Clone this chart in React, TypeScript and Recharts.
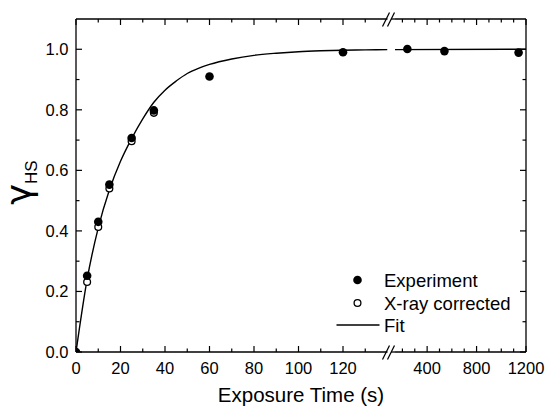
import React from "react"
import { ComposedChart, Line, Scatter, XAxis, YAxis } from "recharts"

// exposure times (s) and gamma_HS values
const expTimes = [0, 5, 10, 15, 25, 35, 60, 120, 240, 540, 1140]
const expValues = [0, 0.252, 0.43, 0.553, 0.707, 0.798, 0.91, 0.99, 1.001, 0.994, 0.989]

const xrayTimes = [5, 10, 15, 25, 35]
const xrayValues = [0.231, 0.413, 0.54, 0.696, 0.79]

const fitTimes = [0, 5, 10, 15, 20, 25, 30, 35, 40, 45, 50, 55, 60, 70, 80, 90, 100, 110, 120, 130, 140, 1200]
const fitValues = [0, 0.24, 0.41, 0.535, 0.63, 0.705, 0.77, 0.825, 0.865, 0.895, 0.92, 0.937, 0.95, 0.968, 0.98, 0.987, 0.992, 0.995, 0.997, 0.998, 0.999, 1.0]

// broken x axis: 0-140 then 140-1200
const breakAt = 140
const leftTicks = [0, 10, 20, 30, 40, 50, 60, 70, 80, 90, 100, 110, 120, 130]
const leftMajor = [0, 20, 40, 60, 80, 100, 120]
const rightTicks = [200, 300, 400, 500, 600, 700, 800, 900, 1000, 1100, 1200]
const rightMajor = [400, 800, 1200]
const yTicks = [0, 0.1, 0.2, 0.3, 0.4, 0.5, 0.6, 0.7, 0.8, 0.9, 1.0]
const yMajor = [0, 0.2, 0.4, 0.6, 0.8, 1.0]

const legendItems = ["Experiment", "X-ray corrected", "Fit"]

const W = 546
const H = 408
const TOP = 19
const BOTTOM = 352
const LEFT = 76
const RIGHT = 526
const SEG1_END = 387.5
const SEG2_START = 395

const FONT = '"Liberation Sans", Arial, sans-serif'
const AXIS = { stroke: "#000", strokeWidth: 1.3 }

const toPoints = (ts: number[], vs: number[]) => ts.map((t, i) => ({ t, y: vs[i] }))
const exp = toPoints(expTimes, expValues)
const xray = toPoints(xrayTimes, xrayValues)
const fit = toPoints(fitTimes, fitValues)

const isIn = (list: number[], v: number) => list.some(m => Math.abs(m - v) < 1e-6)

function XTick(props: any) {
  const { x, y, payload, majors, side } = props
  const major = isIn(majors, payload.value)
  const len = major ? 6 : 3.5
  const dir = side === "top" ? 1 : -1
  return (
    <g>
      <line x1={x} y1={y} x2={x} y2={y + dir * len} stroke="#000" strokeWidth={1.2} />
      {major && side === "bottom" && (
        <text x={x} y={y + 21.5} textAnchor="middle" fontSize={16.5} fontFamily={FONT} fill="#000">
          {payload.value}
        </text>
      )}
    </g>
  )
}

function YTick(props: any) {
  const { x, y, payload, side } = props
  const major = isIn(yMajor, payload.value)
  const len = major ? 6 : 3.5
  const dir = side === "left" ? 1 : -1
  return (
    <g>
      <line x1={x} y1={y} x2={x + dir * len} y2={y} stroke="#000" strokeWidth={1.2} />
      {major && side === "left" && (
        <text x={x - 7.5} y={y + 6} textAnchor="end" fontSize={16.5} fontFamily={FONT} fill="#000">
          {payload.value.toFixed(1)}
        </text>
      )}
    </g>
  )
}

const filledDot = (p: any) => <circle cx={p.cx} cy={p.cy} r={4.3} fill="#000" />
const openDot = (p: any) => <circle cx={p.cx} cy={p.cy} r={3.4} fill="#fff" stroke="#000" strokeWidth={1.3} />

function Segment({ lo, hi, ticks, majors, margin, showLeft }: any) {
  const inSeg = (d: { t: number }) => d.t >= lo && d.t <= hi
  return (
    <ComposedChart width={W} height={H} margin={margin}>
      <XAxis
        xAxisId="b"
        dataKey="t"
        type="number"
        domain={[lo, hi]}
        ticks={ticks}
        interval={0}
        allowDataOverflow
        height={1}
        tickSize={0}
        tickMargin={0}
        tickLine={false}
        axisLine={AXIS}
        tick={<XTick majors={majors} side="bottom" />}
      />
      <XAxis
        xAxisId="t"
        orientation="top"
        dataKey="t"
        type="number"
        domain={[lo, hi]}
        ticks={ticks}
        interval={0}
        allowDataOverflow
        height={1}
        tickSize={0}
        tickMargin={0}
        tickLine={false}
        axisLine={AXIS}
        tick={<XTick majors={majors} side="top" />}
      />
      <YAxis
        yAxisId="y"
        orientation={showLeft ? "left" : "right"}
        dataKey="y"
        type="number"
        domain={[0, 1.1]}
        ticks={yTicks}
        interval={0}
        allowDataOverflow
        width={1}
        tickSize={0}
        tickMargin={0}
        tickLine={false}
        axisLine={AXIS}
        tick={<YTick side={showLeft ? "left" : "right"} />}
      />
      <Line
        xAxisId="b"
        yAxisId="y"
        data={fit.filter(inSeg)}
        dataKey="y"
        type="monotone"
        stroke="#000"
        strokeWidth={1.4}
        dot={false}
        isAnimationActive={false}
      />
      <Scatter
        xAxisId="b"
        yAxisId="y"
        data={xray.filter(inSeg)}
        dataKey="y"
        shape={openDot}
        isAnimationActive={false}
      />
      <Scatter
        xAxisId="b"
        yAxisId="y"
        data={exp.filter(inSeg)}
        dataKey="y"
        shape={filledDot}
        isAnimationActive={false}
      />
    </ComposedChart>
  )
}

function BreakMark({ y }: { y: number }) {
  return (
    <g stroke="#000" strokeWidth={1.2}>
      <line x1={391} y1={y} x2={SEG2_START} y2={y} strokeWidth={1.3} />
      <line x1={382.5} y1={y + 7.5} x2={389.5} y2={y - 6.5} />
      <line x1={387.5} y1={y + 7.5} x2={394.5} y2={y - 6.5} />
    </g>
  )
}

export default function App() {
  const abs: React.CSSProperties = { position: "absolute", left: 0, top: 0 }
  return (
    <div style={{ ...abs, width: W, height: H, background: "#fff", fontFamily: FONT }}>
      <div style={abs}>
        <Segment
          lo={0}
          hi={breakAt}
          ticks={leftTicks}
          majors={leftMajor}
          showLeft
          margin={{ top: TOP - 1, bottom: H - BOTTOM - 1, left: LEFT - 1, right: W - SEG1_END }}
        />
      </div>
      <div style={abs}>
        <Segment
          lo={breakAt}
          hi={1200}
          ticks={rightTicks}
          majors={rightMajor}
          showLeft={false}
          margin={{ top: TOP - 1, bottom: H - BOTTOM - 1, left: SEG2_START, right: W - RIGHT - 1 }}
        />
      </div>
      <svg width={W} height={H} style={{ ...abs, pointerEvents: "none" }}>
        <BreakMark y={TOP} />
        <BreakMark y={BOTTOM} />
        <text x={(LEFT + RIGHT) / 2} y={402} textAnchor="middle" fontSize={20.5} fontFamily={FONT} fill="#000">
          Exposure Time (s)
        </text>
        <text transform={`translate(31, ${(TOP + BOTTOM) / 2 - 3}) rotate(-90)`} textAnchor="middle" fill="#000">
          <tspan fontSize={35} fontFamily='"DejaVu Sans", sans-serif'>γ</tspan>
          <tspan fontSize={17} dy={6} fontFamily={FONT}>HS</tspan>
        </text>
        <g fontFamily={FONT} fontSize={18.5} fill="#000">
          <circle cx={357.5} cy={280} r={4.3} fill="#000" />
          <text x={384} y={286.5}>{legendItems[0]}</text>
          <circle cx={357.5} cy={303} r={3.4} fill="#fff" stroke="#000" strokeWidth={1.3} />
          <text x={384} y={309.5}>{legendItems[1]}</text>
          <line x1={336.5} y1={325} x2={379.5} y2={325} stroke="#000" strokeWidth={1.4} />
          <text x={384} y={331.5}>{legendItems[2]}</text>
        </g>
      </svg>
    </div>
  )
}
